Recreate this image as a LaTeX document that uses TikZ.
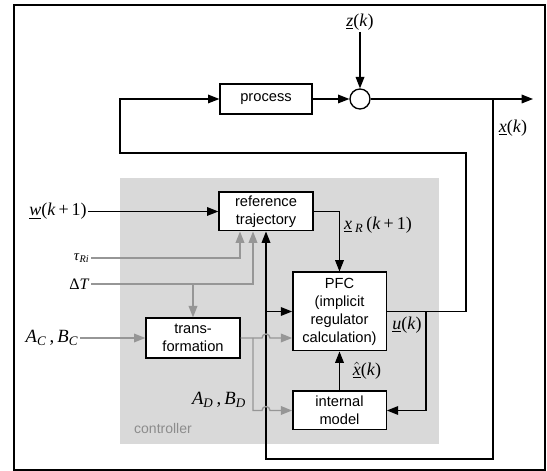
\documentclass[tikz,border=0pt]{standalone}
\usepackage{fontspec}
\setmainfont{Liberation Serif}
\newfontfamily\blockfont{Liberation Sans}
\usepackage{xcolor}
\usetikzlibrary{arrows.meta,positioning,calc}
\definecolor{ctrlgray}{RGB}{217,217,217}
\definecolor{paramgray}{RGB}{150,150,150}
\definecolor{notegray}{RGB}{140,140,140}

\begin{document}
\begin{tikzpicture}[x=0.75pt, y=0.75pt,
  block/.style={draw, line width=1pt, fill=white, align=center, inner sep=1pt,
    font=\blockfont\fontsize{11}{13.5}\selectfont},
  sig/.style={line width=0.9pt},
  paramline/.style={line width=1pt, paramgray},
  arr/.style={-{Triangle[length=8.5pt, width=6.5pt]}},
  lbl/.style={inner sep=1pt, font=\fontsize{13.5}{15}\selectfont}
]
  \useasboundingbox (0,0) rectangle (547,471);
  % frame and controller area
  \draw[line width=1.3pt] (14,1) rectangle (545,466);
  \fill[ctrlgray] (120,27) rectangle (439,293);
  \node[text=notegray, font=\blockfont\fontsize{10.5}{12}\selectfont] (ctrllbl) at (163,43) {controller};

  % blocks
  \node[block, minimum width=69pt, minimum height=22.5pt] (process) at (266,372) {process};
  \node[draw, circle, line width=1pt, minimum size=15pt, inner sep=0pt] (sum) at (360,372) {};
  \node[block, minimum width=70.5pt, minimum height=29pt] (reftraj) at (266,259.5) {reference\\trajectory};
  \node[block, minimum width=70.5pt, minimum height=30pt] (transf) at (193,133) {trans-\\formation};
  \node[block, minimum width=70pt, minimum height=59pt] (pfc) at (339.5,159.5) {PFC\\(implicit\\regulator\\calculation)};
  \node[block, minimum width=70pt, minimum height=29pt] (intmod) at (339.5,60.5) {internal\\model};

  % labels
  \node[lbl] (zlbl) at (360,449) {\underline{\textit{z}}(\textit{k})};
  \node[lbl] (xlbl) at (513,343) {\underline{\textit{x}}(\textit{k})};
  \node[lbl] (wlbl) at (58,259.5) {\underline{\textit{w}}(\textit{k}\,+\,1)};
  \node[lbl] (xrlbl) at (378,246) {\underline{\textit{x}}\,\textsubscript{\textit{R}}\,(\textit{k}\,+\,1)};
  \node[lbl] (ulbl) at (407,146) {\underline{\textit{u}}(\textit{k})};
  \node[lbl] (xhlbl) at (367,100) {\underline{$\hat{\textit{x}}$}(\textit{k})};
  \node[lbl, anchor=east, font=\fontsize{11}{13}\selectfont] (taulbl) at (91,213) {\textit{τ}\textsubscript{\textit{Ri}}};
  \node[lbl, anchor=east, font=\fontsize{12}{14}\selectfont] (dtlbl) at (91,187) {Δ\textit{T}};
  \node[lbl, font=\fontsize{14}{16}\selectfont] (aclbl) at (52,133) {\textit{A}\textsubscript{\textit{C}}\,,\,\textit{B}\textsubscript{\textit{C}}};
  \node[lbl, font=\fontsize{14}{16}\selectfont] (adlbl) at (219,71) {\textit{A}\textsubscript{\textit{D}}\,,\,\textit{B}\textsubscript{\textit{D}}};

  % helper points
  \coordinate (xout) at (533,372);
  \coordinate (xtap) at (493,372);
  \coordinate (xbot) at (493,12);
  \coordinate (loopne) at (466,318);
  \coordinate (loopnw) at (120,372);
  \coordinate (utap) at (426,159.5);
  \coordinate (split) at (253,133);
  \coordinate (hopA) at (262,133);
  \coordinate (hopB) at (262,60.5);

  % process loop
  \draw[sig, arr] (zlbl) -- (sum);
  \draw[sig, arr] (process) -- (sum);
  \draw[sig, arr] (sum) -- (xout);
  \draw[sig, arr] (pfc.east) -| (loopne) -| (loopnw) -- (process.west);
  \draw[sig, arr] (xtap) -- (xbot) -| (reftraj.south);
  \draw[sig, arr] (reftraj.south |- pfc.west) -- (pfc.west);

  % controller signals
  \draw[sig, arr] (reftraj.west -| wlbl.east) -- (reftraj.west);
  \draw[sig, arr] (reftraj.east) -| (pfc.north);
  \draw[sig, arr] (intmod.north) -- (pfc.south);
  \draw[sig, arr] (utap) |- (intmod.east);

  % parameters
  \draw[paramline, arr] (taulbl.east) -| ($(reftraj.south)+(-26,0)$);
  \draw[paramline, arr] (dtlbl.east) -| ($(reftraj.south)+(-13,0)$);
  \draw[paramline, arr] (transf.north |- dtlbl.east) -- (transf.north);
  \draw[paramline, arr] (transf.west -| aclbl.east) -- (transf.west);
  \draw[paramline, arr] (transf.east) -- (hopA) arc[start angle=180, end angle=0, radius=4] -- (pfc.west |- hopA);
  \draw[paramline, arr] (split) |- (hopB) arc[start angle=180, end angle=0, radius=4] -- (intmod.west |- hopB);
\end{tikzpicture}
\end{document}
